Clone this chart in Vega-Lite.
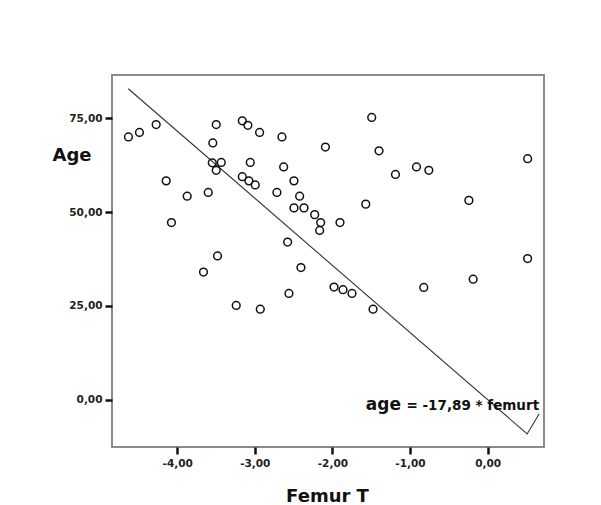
{
  "$schema": "https://vega.github.io/schema/vega-lite/v6.json",
  "width": 432,
  "height": 372,
  "autosize": {"type": "none"},
  "padding": {"left": 112, "top": 75, "right": 57, "bottom": 58},
  "background": "white",
  "config": {
    "view": {"stroke": "#8a8a8a", "strokeWidth": 2},
    "axis": {"grid": false, "domain": false, "tickColor": "#111", "tickWidth": 2.5, "tickSize": 7,
             "labelFont": "DejaVu Sans", "labelFontWeight": "bold", "labelFontSize": 10.5, "labelColor": "#222",
             "titleFont": "DejaVu Sans", "titleFontWeight": "bold", "titleFontSize": 18, "titleColor": "#111"}
  },
  "datasets": {
    "pts": [
      {"femur": -4.628, "age": 70.0}, {"femur": -4.486, "age": 71.2}, {"femur": -4.271, "age": 73.3},
      {"femur": -4.142, "age": 58.3}, {"femur": -4.074, "age": 47.2}, {"femur": -3.871, "age": 54.2},
      {"femur": -3.600, "age": 55.2}, {"femur": -3.541, "age": 68.4}, {"femur": -3.548, "age": 63.1},
      {"femur": -3.432, "age": 63.2}, {"femur": -3.497, "age": 61.1}, {"femur": -3.497, "age": 73.3},
      {"femur": -3.661, "age": 34.0}, {"femur": -3.480, "age": 38.3}, {"femur": -3.161, "age": 74.3},
      {"femur": -3.089, "age": 73.1}, {"femur": -2.938, "age": 71.2}, {"femur": -2.650, "age": 70.0},
      {"femur": -3.058, "age": 63.2}, {"femur": -2.628, "age": 62.0}, {"femur": -3.161, "age": 59.4},
      {"femur": -3.076, "age": 58.3}, {"femur": -2.994, "age": 57.2}, {"femur": -2.495, "age": 58.3},
      {"femur": -2.715, "age": 55.2}, {"femur": -2.422, "age": 54.2}, {"femur": -2.495, "age": 51.1},
      {"femur": -2.366, "age": 51.1}, {"femur": -2.228, "age": 49.3}, {"femur": -2.151, "age": 47.2},
      {"femur": -2.164, "age": 45.1}, {"femur": -1.902, "age": 47.2}, {"femur": -2.577, "age": 42.0},
      {"femur": -2.405, "age": 35.2}, {"femur": -3.239, "age": 25.1}, {"femur": -2.929, "age": 24.1},
      {"femur": -2.560, "age": 28.3}, {"femur": -2.090, "age": 67.3}, {"femur": -1.493, "age": 75.2},
      {"femur": -1.399, "age": 66.3}, {"femur": -1.187, "age": 60.0}, {"femur": -0.916, "age": 62.0},
      {"femur": -0.757, "age": 61.1}, {"femur": -1.570, "age": 52.1}, {"femur": -0.241, "age": 53.1},
      {"femur": 0.516, "age": 64.2}, {"femur": 0.516, "age": 37.6}, {"femur": -0.186, "age": 32.1},
      {"femur": -0.822, "age": 29.9}, {"femur": -1.979, "age": 30.0}, {"femur": -1.863, "age": 29.3},
      {"femur": -1.747, "age": 28.3}, {"femur": -1.476, "age": 24.1}
    ],
    "fit": [
      {"femur": -4.63, "age": 82.83},
      {"femur": 0.51, "age": -9.12},
      {"femur": 0.665, "age": -3.73}
    ],
    "eqA": [{"femur": -1.57, "age": -2.85, "label": "age"}],
    "eqB": [{"femur": -1.045, "age": -2.85, "label": "= -17,89 * femurt"}]
  },
  "layer": [
    {
      "data": {"name": "fit"},
      "mark": {"type": "line", "color": "#333", "strokeWidth": 1.1},
      "encoding": {
        "x": {"field": "femur", "type": "quantitative", "scale": {"domain": [-4.84, 0.727], "nice": false, "zero": false},
              "axis": {"values": [-4, -3, -2, -1, 0], "labelExpr": "replace(replace(format(datum.value, '.2f'), '.', ','), '\u2212', '-')",
                       "labelPadding": 4, "title": "Femur T", "titleX": 215, "titleY": 54, "titleBaseline": "alphabetic", "titleAnchor": null, "titleAlign": "center"}},
        "y": {"field": "age", "type": "quantitative", "scale": {"domain": [-12.6, 86.5], "nice": false, "zero": false},
              "axis": {"values": [0, 25, 50, 75], "labelExpr": "replace(replace(format(datum.value, '.2f'), '.', ','), '\u2212', '-')",
                       "labelPadding": 3, "title": "Age", "titleAngle": 0, "titleX": -60, "titleY": 85, "titleAlign": "left", "titleBaseline": "alphabetic"}}
      }
    },
    {
      "data": {"name": "pts"},
      "mark": {"type": "point", "shape": "circle", "filled": false, "color": "#111", "size": 60, "strokeWidth": 1.5, "opacity": 1},
      "encoding": {
        "x": {"field": "femur", "type": "quantitative"},
        "y": {"field": "age", "type": "quantitative"}
      }
    },
    {
      "data": {"name": "eqA"},
      "mark": {"type": "text", "align": "left", "baseline": "alphabetic", "font": "DejaVu Sans", "fontWeight": "bold", "fontSize": 17, "color": "#111"},
      "encoding": {
        "x": {"field": "femur", "type": "quantitative"},
        "y": {"field": "age", "type": "quantitative"},
        "text": {"field": "label"}
      }
    },
    {
      "data": {"name": "eqB"},
      "mark": {"type": "text", "align": "left", "baseline": "alphabetic", "font": "DejaVu Sans", "fontWeight": "bold", "fontSize": 13.5, "color": "#111"},
      "encoding": {
        "x": {"field": "femur", "type": "quantitative"},
        "y": {"field": "age", "type": "quantitative"},
        "text": {"field": "label"}
      }
    }
  ]
}
